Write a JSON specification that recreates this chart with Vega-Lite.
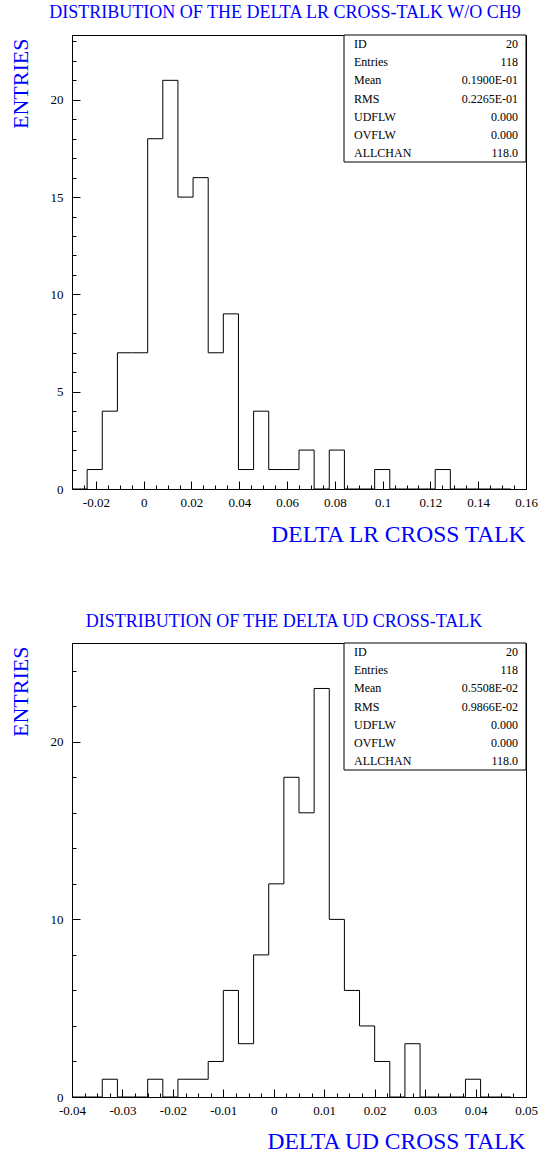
{
  "$schema": "https://vega.github.io/schema/vega-lite/v6.json",
  "padding": {"left": 8, "top": 3, "right": 0, "bottom": 0},
  "background": "white",
  "config": {
    "font": "Liberation Serif",
    "view": {"stroke": "black", "strokeWidth": 1},
    "axis": {"grid": false, "domainColor": "black", "domainWidth": 1, "tickColor": "black", "tickWidth": 1, "labelColor": "black", "labelFont": "Liberation Serif", "labelFontSize": 13, "labelFlush": false, "labelOverlap": false, "labelBound": false, "titleFont": "Liberation Serif", "titleFontWeight": "normal", "titleColor": "#0000ff"}
  },
  "datasets": {
    "lr": [
      {"bin_start": -0.03, "bin_end": -0.023667, "count": 0},
      {"bin_start": -0.023667, "bin_end": -0.017333, "count": 1},
      {"bin_start": -0.017333, "bin_end": -0.011, "count": 4},
      {"bin_start": -0.011, "bin_end": -0.004667, "count": 7},
      {"bin_start": -0.004667, "bin_end": 0.001667, "count": 7},
      {"bin_start": 0.001667, "bin_end": 0.008, "count": 18},
      {"bin_start": 0.008, "bin_end": 0.014333, "count": 21},
      {"bin_start": 0.014333, "bin_end": 0.020667, "count": 15},
      {"bin_start": 0.020667, "bin_end": 0.027, "count": 16},
      {"bin_start": 0.027, "bin_end": 0.033333, "count": 7},
      {"bin_start": 0.033333, "bin_end": 0.039667, "count": 9},
      {"bin_start": 0.039667, "bin_end": 0.046, "count": 1},
      {"bin_start": 0.046, "bin_end": 0.052333, "count": 4},
      {"bin_start": 0.052333, "bin_end": 0.058667, "count": 1},
      {"bin_start": 0.058667, "bin_end": 0.065, "count": 1},
      {"bin_start": 0.065, "bin_end": 0.071333, "count": 2},
      {"bin_start": 0.071333, "bin_end": 0.077667, "count": 0},
      {"bin_start": 0.077667, "bin_end": 0.084, "count": 2},
      {"bin_start": 0.084, "bin_end": 0.090333, "count": 0},
      {"bin_start": 0.090333, "bin_end": 0.096667, "count": 0},
      {"bin_start": 0.096667, "bin_end": 0.103, "count": 1},
      {"bin_start": 0.103, "bin_end": 0.109333, "count": 0},
      {"bin_start": 0.109333, "bin_end": 0.115667, "count": 0},
      {"bin_start": 0.115667, "bin_end": 0.122, "count": 0},
      {"bin_start": 0.122, "bin_end": 0.128333, "count": 1},
      {"bin_start": 0.128333, "bin_end": 0.134667, "count": 0},
      {"bin_start": 0.134667, "bin_end": 0.141, "count": 0},
      {"bin_start": 0.141, "bin_end": 0.147333, "count": 0},
      {"bin_start": 0.147333, "bin_end": 0.153667, "count": 0},
      {"bin_start": 0.153667, "bin_end": 0.16, "count": 0}
    ],
    "ud": [
      {"bin_start": -0.04, "bin_end": -0.037, "count": 0},
      {"bin_start": -0.037, "bin_end": -0.034, "count": 0},
      {"bin_start": -0.034, "bin_end": -0.031, "count": 1},
      {"bin_start": -0.031, "bin_end": -0.028, "count": 0},
      {"bin_start": -0.028, "bin_end": -0.025, "count": 0},
      {"bin_start": -0.025, "bin_end": -0.022, "count": 1},
      {"bin_start": -0.022, "bin_end": -0.019, "count": 0},
      {"bin_start": -0.019, "bin_end": -0.016, "count": 1},
      {"bin_start": -0.016, "bin_end": -0.013, "count": 1},
      {"bin_start": -0.013, "bin_end": -0.01, "count": 2},
      {"bin_start": -0.01, "bin_end": -0.007, "count": 6},
      {"bin_start": -0.007, "bin_end": -0.004, "count": 3},
      {"bin_start": -0.004, "bin_end": -0.001, "count": 8},
      {"bin_start": -0.001, "bin_end": 0.002, "count": 12},
      {"bin_start": 0.002, "bin_end": 0.005, "count": 18},
      {"bin_start": 0.005, "bin_end": 0.008, "count": 16},
      {"bin_start": 0.008, "bin_end": 0.011, "count": 23},
      {"bin_start": 0.011, "bin_end": 0.014, "count": 10},
      {"bin_start": 0.014, "bin_end": 0.017, "count": 6},
      {"bin_start": 0.017, "bin_end": 0.02, "count": 4},
      {"bin_start": 0.02, "bin_end": 0.023, "count": 2},
      {"bin_start": 0.023, "bin_end": 0.026, "count": 0},
      {"bin_start": 0.026, "bin_end": 0.029, "count": 3},
      {"bin_start": 0.029, "bin_end": 0.032, "count": 0},
      {"bin_start": 0.032, "bin_end": 0.035, "count": 0},
      {"bin_start": 0.035, "bin_end": 0.038, "count": 0},
      {"bin_start": 0.038, "bin_end": 0.041, "count": 1},
      {"bin_start": 0.041, "bin_end": 0.044, "count": 0},
      {"bin_start": 0.044, "bin_end": 0.047, "count": 0},
      {"bin_start": 0.047, "bin_end": 0.05, "count": 0}
    ],
    "lrstats": [
      {"name": "ID", "val": "20"},
      {"name": "Entries", "val": "118"},
      {"name": "Mean", "val": "0.1900E-01"},
      {"name": "RMS", "val": "0.2265E-01"},
      {"name": "UDFLW", "val": "0.000"},
      {"name": "OVFLW", "val": "0.000"},
      {"name": "ALLCHAN", "val": "118.0"}
    ],
    "udstats": [
      {"name": "ID", "val": "20"},
      {"name": "Entries", "val": "118"},
      {"name": "Mean", "val": "0.5508E-02"},
      {"name": "RMS", "val": "0.9866E-02"},
      {"name": "UDFLW", "val": "0.000"},
      {"name": "OVFLW", "val": "0.000"},
      {"name": "ALLCHAN", "val": "118.0"}
    ]
  },
  "vconcat": [
    {
      "width": 454,
      "height": 454,
      "title": {"text": "DISTRIBUTION OF THE DELTA LR CROSS-TALK W/O CH9", "anchor": "middle", "frame": "group", "dx": -14, "offset": -1, "baseline": "alphabetic", "font": "Liberation Serif", "fontSize": 18, "fontWeight": "normal", "color": "#0000ff"},
      "layer": [
        {
          "data": {"name": "lr"},
          "mark": {"type": "line", "interpolate": "step-after", "color": "black", "strokeWidth": 1},
          "encoding": {
            "x": {"field": "bin_start", "type": "quantitative", "scale": {"domain": [-0.03, 0.16], "nice": false, "zero": false},
              "axis": {"title": "DELTA LR CROSS TALK", "titleFontSize": 23.5, "titleAlign": "right", "titleBaseline": "alphabetic", "titleX": 453, "titleY": 52,
                "values": [-0.025, -0.02, -0.015, -0.01, -0.005, 0, 0.005, 0.01, 0.015, 0.02, 0.025, 0.03, 0.035, 0.04, 0.045, 0.05, 0.055, 0.06, 0.065, 0.07, 0.075, 0.08, 0.085, 0.09, 0.095, 0.1, 0.105, 0.11, 0.115, 0.12, 0.125, 0.13, 0.135, 0.14, 0.145, 0.15, 0.155, 0.16],
                "labelExpr": "abs(datum.value*50 - round(datum.value*50)) < 0.001 ? '' + (round(datum.value*50)/50) : ''",
                "tickSize": {"condition": {"test": "abs(datum.value*50 - round(datum.value*50)) < 0.001", "value": -8}, "value": -4},
                "labelPadding": 15, "labelBaseline": "top"}},
            "y": {"field": "count", "type": "quantitative", "scale": {"domain": [0, 23.33], "nice": false, "zero": true},
              "axis": {"title": "ENTRIES", "titleFontSize": 22, "titleAngle": 270, "titleAlign": "right", "titleBaseline": "alphabetic", "titleX": -45, "titleY": 3,
                "values": [0, 1, 2, 3, 4, 5, 6, 7, 8, 9, 10, 11, 12, 13, 14, 15, 16, 17, 18, 19, 20, 21, 22, 23],
                "labelExpr": "datum.value % 5 === 0 ? '' + datum.value : ''",
                "tickSize": {"condition": {"test": "datum.value % 5 === 0", "value": -8}, "value": -4},
                "labelPadding": 17}}
          }
        },
        {
          "data": {"name": "lrstats"},
          "transform": [{"aggregate": [{"op": "count", "as": "n"}]}],
          "mark": {"type": "rect", "fill": "white", "stroke": "black", "strokeWidth": 1},
          "encoding": {
            "x": {"field": "n", "type": "nominal", "scale": {"type": "band", "range": [272, 454], "paddingInner": 0, "paddingOuter": 0}, "axis": null},
            "y": {"field": "n", "type": "nominal", "scale": {"type": "band", "range": [0, 127], "paddingInner": 0, "paddingOuter": 0}, "axis": null}
          }
        },
        {
          "data": {"name": "lrstats"},
          "transform": [{"fold": ["name", "val"], "as": ["col", "txt"]}],
          "encoding": {
            "x": {"field": "col", "type": "nominal", "scale": {"type": "point", "domain": ["name", "val"], "range": [282, 446], "padding": 0}, "axis": null},
            "y": {"field": "name", "type": "nominal", "sort": null, "scale": {"type": "point", "range": [0, 127], "padding": 0.5}, "axis": null},
            "text": {"field": "txt"}
          },
          "layer": [
            {"transform": [{"filter": "datum.col === 'name'"}], "mark": {"type": "text", "align": "left", "baseline": "middle", "fontSize": 12, "font": "Liberation Serif", "color": "black"}},
            {"transform": [{"filter": "datum.col === 'val'"}], "mark": {"type": "text", "align": "right", "baseline": "middle", "fontSize": 12, "font": "Liberation Serif", "color": "black"}}
          ]
        }
      ],
      "resolve": {"scale": {"x": "independent", "y": "independent"}}
    },
    {
      "width": 454,
      "height": 454,
      "title": {"text": "DISTRIBUTION OF THE DELTA UD CROSS-TALK", "anchor": "middle", "frame": "group", "dx": -15, "offset": -2, "baseline": "alphabetic", "font": "Liberation Serif", "fontSize": 18, "fontWeight": "normal", "color": "#0000ff"},
      "layer": [
        {
          "data": {"name": "ud"},
          "mark": {"type": "line", "interpolate": "step-after", "color": "black", "strokeWidth": 1},
          "encoding": {
            "x": {"field": "bin_start", "type": "quantitative", "scale": {"domain": [-0.04, 0.05], "nice": false, "zero": false},
              "axis": {"title": "DELTA UD CROSS TALK", "titleFontSize": 23.5, "titleAlign": "right", "titleBaseline": "alphabetic", "titleX": 453, "titleY": 51,
                "values": [-0.04, -0.0375, -0.035, -0.0325, -0.03, -0.0275, -0.025, -0.0225, -0.02, -0.0175, -0.015, -0.0125, -0.01, -0.0075, -0.005, -0.0025, 0, 0.0025, 0.005, 0.0075, 0.01, 0.0125, 0.015, 0.0175, 0.02, 0.0225, 0.025, 0.0275, 0.03, 0.0325, 0.035, 0.0375, 0.04, 0.0425, 0.045, 0.0475, 0.05],
                "labelExpr": "abs(datum.value*100 - round(datum.value*100)) < 0.001 ? '' + (round(datum.value*100)/100) : ''",
                "tickSize": {"condition": {"test": "abs(datum.value*100 - round(datum.value*100)) < 0.001", "value": -8}, "value": -4},
                "labelPadding": 15, "labelBaseline": "top"}},
            "y": {"field": "count", "type": "quantitative", "scale": {"domain": [0, 25.56], "nice": false, "zero": true},
              "axis": {"title": "ENTRIES", "titleFontSize": 22, "titleAngle": 270, "titleAlign": "right", "titleBaseline": "alphabetic", "titleX": -45, "titleY": 3,
                "values": [0, 2, 4, 6, 8, 10, 12, 14, 16, 18, 20, 22, 24],
                "labelExpr": "datum.value % 10 === 0 ? '' + datum.value : ''",
                "tickSize": {"condition": {"test": "datum.value % 10 === 0", "value": -8}, "value": -4},
                "labelPadding": 17}}
          }
        },
        {
          "data": {"name": "udstats"},
          "transform": [{"aggregate": [{"op": "count", "as": "n"}]}],
          "mark": {"type": "rect", "fill": "white", "stroke": "black", "strokeWidth": 1},
          "encoding": {
            "x": {"field": "n", "type": "nominal", "scale": {"type": "band", "range": [272, 454], "paddingInner": 0, "paddingOuter": 0}, "axis": null},
            "y": {"field": "n", "type": "nominal", "scale": {"type": "band", "range": [0, 127], "paddingInner": 0, "paddingOuter": 0}, "axis": null}
          }
        },
        {
          "data": {"name": "udstats"},
          "transform": [{"fold": ["name", "val"], "as": ["col", "txt"]}],
          "encoding": {
            "x": {"field": "col", "type": "nominal", "scale": {"type": "point", "domain": ["name", "val"], "range": [282, 446], "padding": 0}, "axis": null},
            "y": {"field": "name", "type": "nominal", "sort": null, "scale": {"type": "point", "range": [0, 127], "padding": 0.5}, "axis": null},
            "text": {"field": "txt"}
          },
          "layer": [
            {"transform": [{"filter": "datum.col === 'name'"}], "mark": {"type": "text", "align": "left", "baseline": "middle", "fontSize": 12, "font": "Liberation Serif", "color": "black"}},
            {"transform": [{"filter": "datum.col === 'val'"}], "mark": {"type": "text", "align": "right", "baseline": "middle", "fontSize": 12, "font": "Liberation Serif", "color": "black"}}
          ]
        }
      ],
      "resolve": {"scale": {"x": "independent", "y": "independent"}}
    }
  ],
  "spacing": 154,
  "bounds": "flush"
}
